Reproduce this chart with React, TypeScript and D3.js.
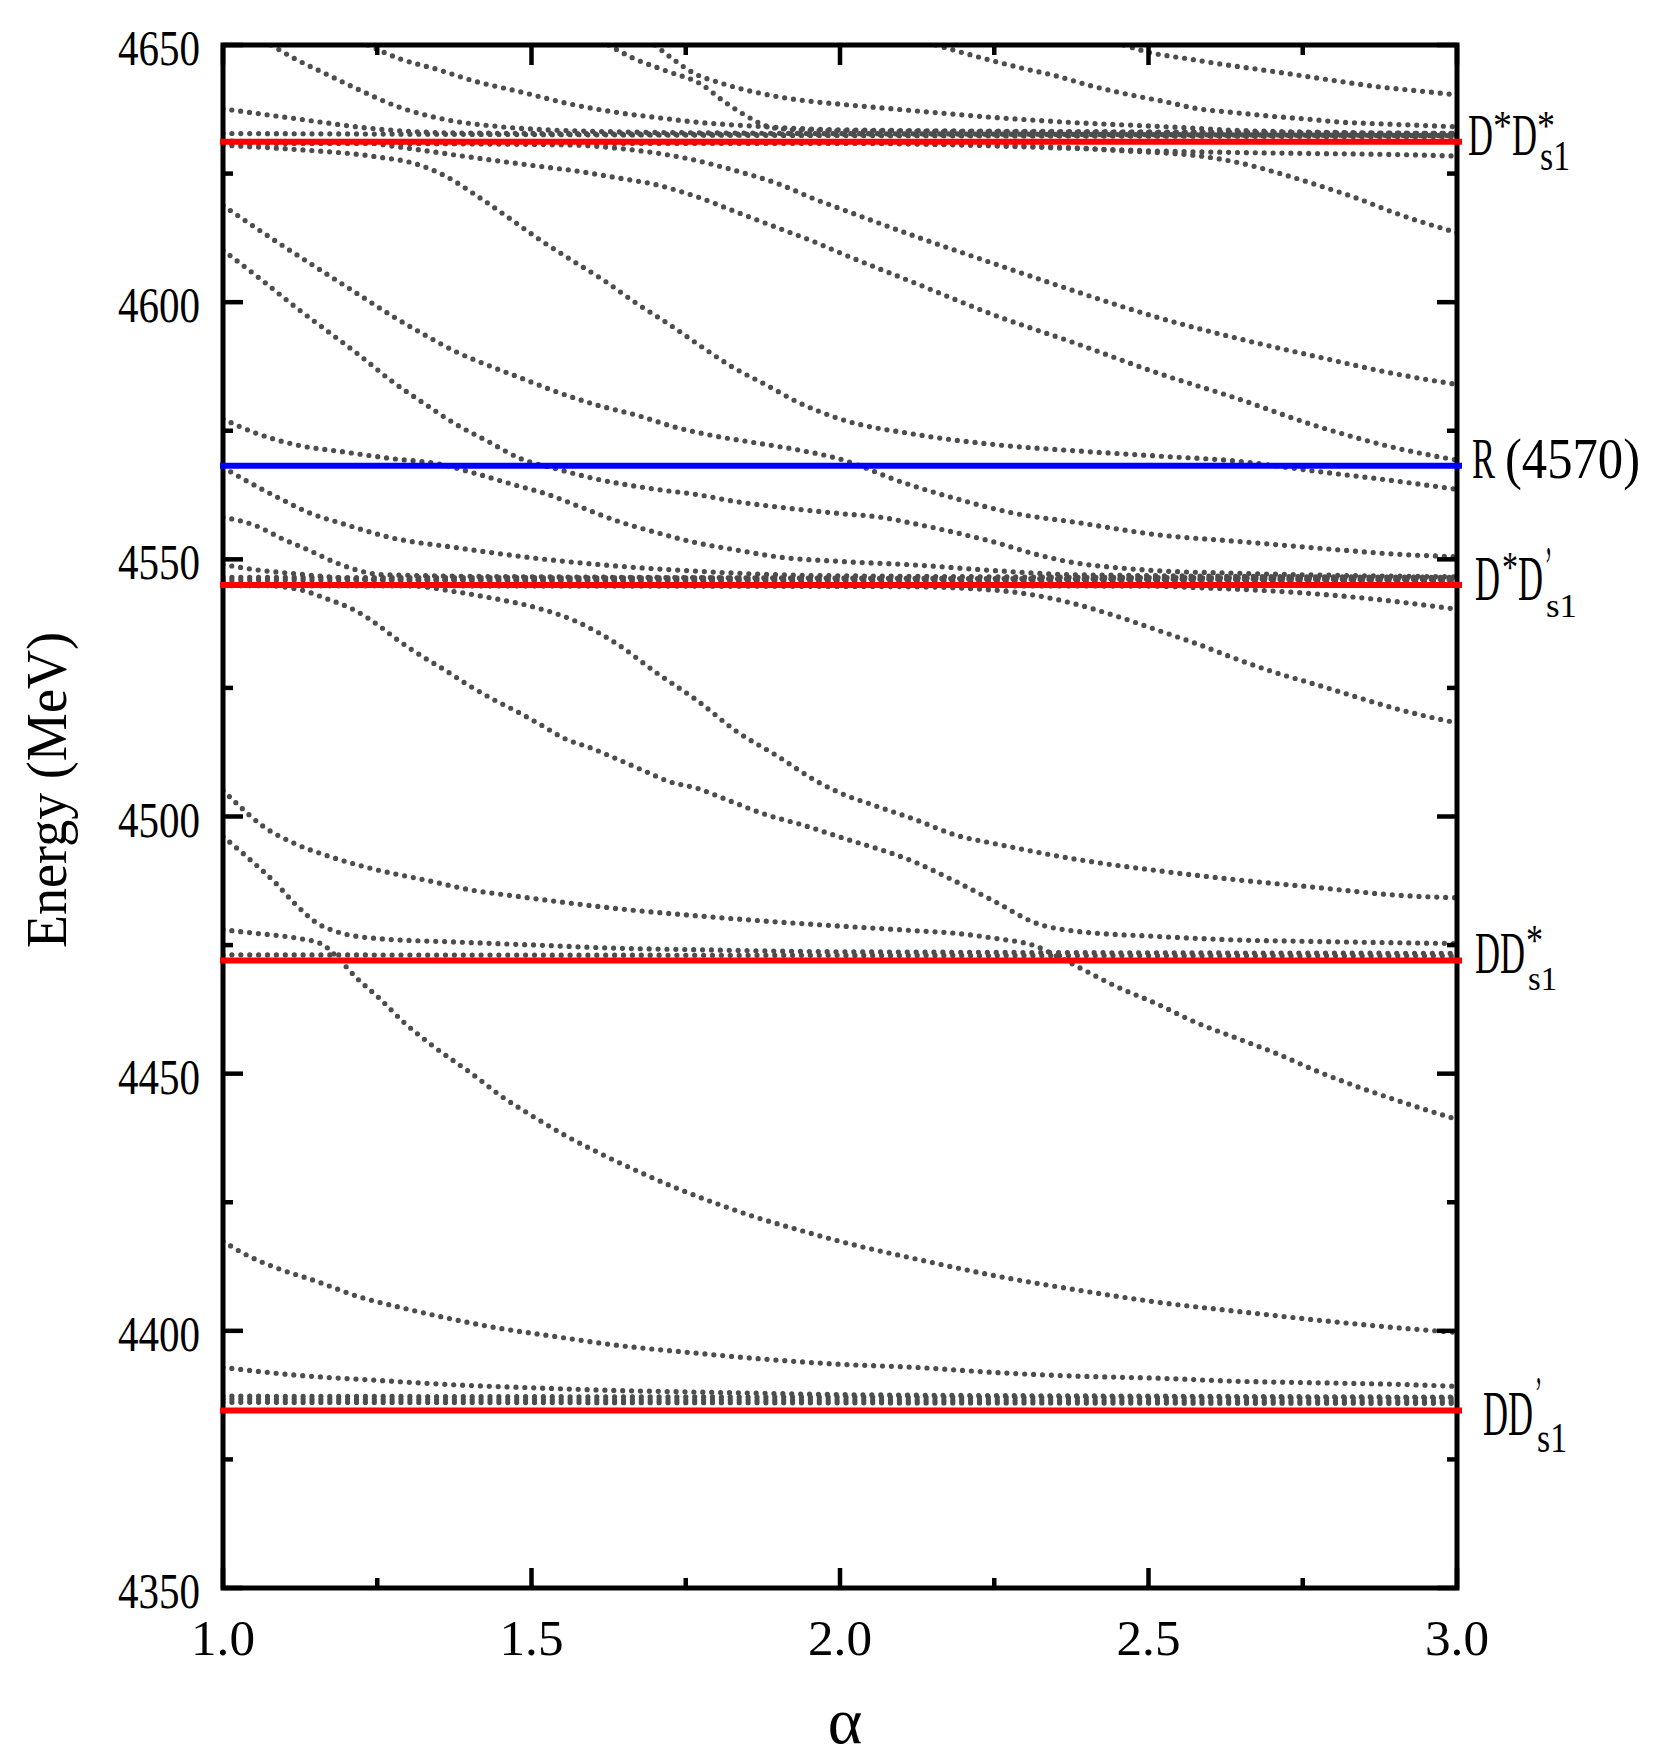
import React from 'react';
import * as d3 from 'd3';

// ---------- axes ----------
const alphaDomain = [1, 3];
const energyDomain = [4350, 4650];
const xMajor = [1, 1.5, 2, 2.5, 3];
const xMinor = [1.25, 1.75, 2.25, 2.75];
const yMajor = [4350, 4400, 4450, 4500, 4550, 4600, 4650];
const yMinor = [4375, 4425, 4475, 4525, 4575, 4625];

// ---------- thresholds (MeV) ----------
const thresholdNames = ['D*D*s1', 'R(4570)', "D*D's1", 'DD*s1', "DD's1"];
const thresholdValues = [4631.2, 4568.2, 4545.0, 4472.0, 4384.5];
const thresholdIsResonance = [false, true, false, false, false];

// ---------- energy levels [alpha, E] ----------
const c1 = [[1.078,4650],[1.117,4647.3],[1.163,4644.6],[1.215,4641.6],[1.286,4637.9],[1.365,4635.4],[1.443,4634.2],[1.573,4633.3],[1.8,4632.9],[2.2,4632.7],[3.0,4632.4]];
const c2 = [[1.235,4650],[1.287,4647.3],[1.346,4645.3],[1.41,4642.9],[1.482,4640.9],[1.56,4638.6],[1.638,4636.9],[1.703,4635.9],[1.768,4635.0],[1.866,4634.2],[2.0,4633.5],[2.5,4633.1],[3.0,4632.8]];
const c3 = [[1.625,4650],[1.662,4647.6],[1.72,4644.9],[1.776,4642.3],[1.81,4639.2],[1.843,4636.6],[1.892,4633.9],[1.95,4633.4],[2.3,4633.1],[3.0,4632.6]];
const c4 = [[1.70,4650],[1.729,4647.3],[1.762,4644.6],[1.807,4642.6],[1.86,4640.9],[1.912,4639.7],[1.964,4638.9],[2.0,4638.5],[2.122,4637.2],[2.252,4635.9],[2.382,4634.9],[2.513,4634.2],[2.643,4633.4],[2.8,4633.0],[3.0,4632.8]];
const c5 = [[2.155,4650],[2.236,4647.3],[2.295,4645.5],[2.35,4644.0],[2.409,4642.0],[2.467,4640.4],[2.526,4639.0],[2.581,4637.6],[2.636,4636.9],[2.695,4636.2],[2.757,4635.6],[2.812,4635.0],[2.871,4634.7],[2.936,4634.4],[3.0,4634.1]];
const c6 = [[2.46,4650],[2.50,4648.6],[2.565,4647.3],[2.617,4646.3],[2.676,4645.3],[2.734,4644.3],[2.806,4643.0],[2.871,4641.9],[2.936,4641.1],[3.0,4640.3]];
const b1 = [[1.0,4637.6],[1.117,4635.7],[1.247,4633.7],[1.377,4632.9],[2.0,4632.6],[3.0,4632.3]];
const flatA = [[1.0,4632.8],[2.0,4632.4],[3.0,4632.2]];
const d1 = [[1.0,4630.5],[1.117,4629.7],[1.247,4628.3],[1.312,4626.9],[1.361,4624.5],[1.41,4620.8],[1.462,4616.5],[1.514,4612.1],[1.566,4608.1],[1.619,4604.1],[1.671,4599.7],[1.723,4595.7],[1.775,4591.4],[1.827,4587.3],[1.879,4584.0],[1.931,4580.6],[2.0,4577.3],[2.122,4574.3],[2.252,4572.3],[2.382,4571.1],[2.513,4570.1],[2.643,4569.1],[2.773,4567.1],[2.903,4565.2],[3.0,4563.6]];
const p1 = [[1.0,4631.3],[1.22,4631.1],[1.283,4630.2],[1.395,4628.3],[1.507,4626.5],[1.573,4625.5],[1.638,4624.2],[1.703,4622.8],[1.768,4620.5],[1.833,4617.5],[1.898,4614.5],[1.963,4611.5],[2.0,4609.6],[2.122,4603.7],[2.252,4597.4],[2.382,4592.0],[2.513,4586.3],[2.643,4581.3],[2.773,4575.9],[2.903,4571.6],[3.0,4569.3]];
const q1 = [[1.0,4631.0],[1.55,4630.6],[1.65,4629.8],[1.75,4628.0],[1.83,4625.6],[1.90,4623.0],[1.96,4620.0],[2.0,4618.2],[2.122,4612.8],[2.252,4607.4],[2.382,4602.1],[2.513,4597.1],[2.643,4593.0],[2.773,4589.4],[2.903,4586.0],[3.0,4584.0]];
const r1 = [[1.0,4630.9],[2.0,4630.9],[2.382,4629.9],[2.513,4629.4],[2.643,4629.1],[2.773,4628.9],[2.903,4628.7],[3.0,4628.4]];
const s1 = [[1.0,4630.9],[2.0,4630.9],[2.382,4630.0],[2.447,4629.5],[2.513,4629.1],[2.578,4628.5],[2.643,4627.2],[2.708,4625.2],[2.773,4622.8],[2.838,4620.2],[2.903,4617.2],[3.0,4613.5]];
const e1 = [[1.0,4618.8],[1.065,4613.5],[1.117,4609.4],[1.169,4605.4],[1.221,4601.4],[1.273,4597.4],[1.326,4593.7],[1.377,4590.4],[1.43,4587.7],[1.482,4585.3],[1.54,4582.6],[1.606,4580.0],[1.671,4578.0],[1.736,4575.6],[1.801,4573.9],[1.866,4572.6],[1.931,4571.3],[2.0,4569.5],[2.103,4564.9],[2.194,4561.6],[2.285,4558.9],[2.382,4557.2],[2.513,4554.8],[2.643,4553.5],[2.773,4552.2],[2.903,4551.0],[3.0,4550.5]];
const f1 = [[1.0,4610.1],[1.065,4604.1],[1.117,4599.1],[1.169,4594.4],[1.221,4589.7],[1.273,4584.7],[1.326,4580.3],[1.377,4576.3],[1.43,4572.9],[1.482,4569.6],[1.54,4567.6],[1.606,4565.6],[1.703,4563.6],[1.768,4562.6],[1.833,4561.2],[1.898,4560.2],[2.0,4558.9],[2.065,4558.2],[2.122,4556.9],[2.187,4555.2],[2.252,4553.3],[2.317,4551.0],[2.382,4549.3],[2.447,4548.4],[2.513,4547.8],[2.643,4547.3],[3.0,4546.6]];
const g1 = [[1.0,4577.3],[1.052,4574.6],[1.117,4572.3],[1.195,4570.9],[1.273,4569.6],[1.351,4568.5],[1.403,4566.9],[1.469,4564.6],[1.527,4562.6],[1.579,4560.2],[1.638,4557.5],[1.703,4555.2],[1.768,4553.2],[1.833,4551.8],[1.898,4550.5],[2.0,4549.6],[2.122,4548.9],[2.252,4547.8],[2.382,4547.0],[3.0,4546.5]];
const h1 = [[1.0,4567.9],[1.039,4565.2],[1.091,4561.9],[1.143,4558.9],[1.195,4556.9],[1.273,4554.2],[1.377,4552.3],[1.508,4550.2],[1.638,4548.7],[1.768,4547.7],[1.898,4547.0],[2.0,4546.8],[3.0,4546.3]];
const i1 = [[1.0,4558.2],[1.052,4556.6],[1.098,4553.9],[1.137,4551.9],[1.182,4549.4],[1.215,4548.0],[1.26,4547.0],[1.5,4546.6],[3.0,4546.1]];
const j1 = [[1.0,4549.0],[1.052,4548.0],[1.117,4547.2],[1.182,4546.5],[1.247,4546.1],[3.0,4545.9]];
const k1 = [[1.0,4546.5],[3.0,4546.2]];
const k2 = [[1.0,4546.0],[3.0,4545.8]];
const l1 = [[1.0,4545.5],[1.117,4544.3],[1.169,4542.3],[1.215,4540.0],[1.254,4537.0],[1.28,4534.6],[1.326,4530.9],[1.358,4528.6],[1.397,4525.6],[1.436,4522.9],[1.475,4520.5],[1.514,4517.9],[1.553,4515.2],[1.599,4513.2],[1.638,4511.2],[1.684,4508.8],[1.723,4506.8],[1.768,4505.5],[1.82,4503.1],[1.879,4500.4],[1.938,4498.4],[2.0,4496.0],[2.122,4491.1],[2.187,4487.4],[2.252,4483.4],[2.317,4479.3],[2.382,4477.7],[2.513,4476.7],[2.643,4476.0],[2.773,4475.7],[3.0,4475.3]];
const m1 = [[1.0,4545.1],[1.3,4544.9],[1.377,4543.7],[1.443,4542.3],[1.508,4540.6],[1.573,4537.9],[1.638,4533.6],[1.703,4527.9],[1.768,4522.6],[1.833,4516.5],[1.898,4511.8],[1.963,4506.8],[2.0,4504.6],[2.057,4502.1],[2.122,4499.4],[2.187,4496.4],[2.252,4494.7],[2.382,4491.7],[2.513,4489.5],[2.643,4487.7],[2.773,4486.2],[2.903,4484.7],[3.0,4484.2]];
const n1 = [[1.0,4544.9],[2.1,4544.7],[2.252,4544.0],[2.317,4543.0],[2.382,4541.3],[2.447,4539.0],[2.513,4536.3],[2.578,4533.6],[2.643,4530.6],[2.708,4527.9],[2.773,4525.6],[2.838,4523.2],[2.903,4520.9],[3.0,4518.2]];
const o1 = [[1.0,4544.9],[2.5,4544.8],[2.578,4544.5],[2.708,4543.8],[2.838,4542.6],[3.0,4540.3]];
const u1 = [[1.0,4505.1],[1.026,4502.1],[1.065,4498.1],[1.117,4494.7],[1.176,4492.1],[1.247,4489.7],[1.326,4487.7],[1.403,4485.7],[1.482,4484.4],[1.56,4483.2],[1.638,4482.1],[1.768,4480.7],[1.898,4479.5],[2.0,4478.7],[2.122,4477.8],[2.187,4477.3],[2.252,4476.3],[2.317,4474.8],[2.356,4472.6],[2.382,4471.0],[2.447,4467.0],[2.513,4463.6],[2.578,4459.9],[2.643,4456.9],[2.708,4453.9],[2.773,4450.5],[2.838,4447.5],[2.903,4444.8],[3.0,4441.1]];
const v1 = [[1.0,4496.1],[1.045,4491.5],[1.085,4487.1],[1.117,4483.0],[1.156,4479.0],[1.182,4477.7],[1.247,4476.3],[1.377,4475.6],[1.508,4475.0],[1.638,4474.4],[1.768,4474.1],[2.0,4473.7],[3.0,4473.4]];
const cl1 = [[1.0,4473.1],[3.0,4472.9]];
const w1 = [[1.0,4478.0],[1.052,4477.3],[1.117,4476.4],[1.16,4475.2],[1.19,4472.0],[1.215,4468.8],[1.254,4464.6],[1.293,4460.0],[1.338,4455.6],[1.41,4449.4],[1.449,4445.8],[1.501,4441.8],[1.553,4438.1],[1.606,4434.8],[1.671,4431.1],[1.736,4427.7],[1.801,4424.7],[1.866,4422.0],[1.931,4419.7],[2.0,4417.4],[2.122,4414.0],[2.252,4410.7],[2.382,4408.0],[2.513,4405.6],[2.643,4403.8],[2.773,4402.1],[2.903,4400.6],[3.0,4399.7]];
const x1 = [[1.0,4417.4],[1.039,4414.7],[1.085,4412.3],[1.15,4409.7],[1.221,4406.6],[1.293,4404.4],[1.351,4402.8],[1.443,4400.6],[1.527,4399.1],[1.638,4397.2],[1.755,4395.8],[1.866,4394.6],[2.0,4393.5],[2.122,4392.9],[2.252,4391.9],[2.382,4391.2],[2.513,4390.8],[2.643,4390.2],[2.773,4389.9],[2.903,4389.6],[3.0,4389.2]];
const y1 = [[1.0,4392.9],[1.117,4391.4],[1.247,4390.4],[1.377,4389.5],[1.508,4388.9],[1.638,4388.4],[1.768,4388.1],[1.898,4387.8],[2.0,4387.6],[2.5,4387.3],[3.0,4387.1]];
const z1 = [[1.0,4387.3],[3.0,4386.9]];
const z2 = [[1.0,4386.7],[3.0,4386.3]];
const z3 = [[1.0,4386.1],[3.0,4385.9]];

const levels = [c1, c2, c3, c4, c5, c6, b1, flatA, d1, p1, q1, r1, s1, e1, f1, g1, h1, i1, j1, k1, k2,
  l1, m1, n1, o1, u1, v1, cl1, w1, x1, y1, z1, z2, z3];

// ---------- layout ----------
const W = 1674, H = 1764;
const L = 223, R = 1457, T = 45, B = 1588;
const FONT = "'Liberation Serif', 'Times New Roman', serif";

type Piece = { t: string; x: number; y: number; fs: number; w: number };
const labelPieces: Piece[][] = [
  [
    { t: 'D', x: 1468, y: 155, fs: 60, w: 25 },
    { t: '*', x: 1493, y: 140, fs: 42, w: 19 },
    { t: 'D', x: 1512, y: 155, fs: 60, w: 25 },
    { t: '*', x: 1537, y: 140, fs: 42, w: 18 },
    { t: 's1', x: 1540, y: 170, fs: 42, w: 30 },
  ],
  [
    { t: 'R', x: 1472, y: 478, fs: 58, w: 23 },
    { t: '(4570)', x: 1505, y: 478, fs: 58, w: 135 },
  ],
  [
    { t: 'D', x: 1475, y: 600, fs: 63, w: 25 },
    { t: '*', x: 1502, y: 582, fs: 44, w: 16 },
    { t: 'D', x: 1518, y: 600, fs: 63, w: 25 },
    { t: '\u2019', x: 1545, y: 586, fs: 56, w: 7 },
    { t: 's1', x: 1546, y: 617, fs: 33, w: 31 },
  ],
  [
    { t: 'DD', x: 1475, y: 973, fs: 60, w: 50 },
    { t: '*', x: 1526, y: 955, fs: 44, w: 17 },
    { t: 's1', x: 1528, y: 990, fs: 33, w: 29 },
  ],
  [
    { t: 'DD', x: 1483, y: 1435, fs: 63, w: 50 },
    { t: '\u2019', x: 1535, y: 1410, fs: 48, w: 7 },
    { t: 's1', x: 1537, y: 1452, fs: 43, w: 30 },
  ],
];

export default function App() {
  const x = d3.scaleLinear().domain(alphaDomain).range([L, R]);
  const y = d3.scaleLinear().domain(energyDomain).range([B, T]);
  const line = d3
    .line<number[]>()
    .x((d) => x(d[0]))
    .y((d) => y(d[1]))
    .curve(d3.curveMonotoneX);
  const fmt = d3.format('.1f');

  return (
    <svg
      width={W}
      height={H}
      viewBox={`0 0 ${W} ${H}`}
      style={{ position: 'absolute', left: 0, top: 0, background: '#fff' }}
      fontFamily={FONT}
    >
      <rect x={0} y={0} width={W} height={H} fill="#fff" />
      <defs>
        <clipPath id="plotClip">
          <rect x={L} y={T} width={R - L} height={B - T} />
        </clipPath>
      </defs>

      {/* energy levels */}
      <g clipPath="url(#plotClip)" fill="none" stroke="#4d4d4d" strokeWidth={5.2}
         strokeLinecap="round" strokeDasharray="0 8.9">
        {levels.map((lv, i) => (
          <path key={i} d={line(lv) || ''} />
        ))}
      </g>

      {/* frame */}
      <rect x={L} y={T} width={R - L} height={B - T} fill="none" stroke="#000" strokeWidth={5} />

      {/* ticks */}
      <g stroke="#000" strokeWidth={4.5}>
        {xMajor.map((v) => (
          <g key={'xM' + v}>
            <line x1={x(v)} x2={x(v)} y1={B} y2={B - 20} />
            <line x1={x(v)} x2={x(v)} y1={T} y2={T + 20} />
          </g>
        ))}
        {xMinor.map((v) => (
          <g key={'xm' + v}>
            <line x1={x(v)} x2={x(v)} y1={B} y2={B - 10} />
            <line x1={x(v)} x2={x(v)} y1={T} y2={T + 10} />
          </g>
        ))}
        {yMajor.map((v) => (
          <g key={'yM' + v}>
            <line x1={L} x2={L + 20} y1={y(v)} y2={y(v)} />
            <line x1={R} x2={R - 20} y1={y(v)} y2={y(v)} />
          </g>
        ))}
        {yMinor.map((v) => (
          <g key={'ym' + v}>
            <line x1={L} x2={L + 10} y1={y(v)} y2={y(v)} />
            <line x1={R} x2={R - 10} y1={y(v)} y2={y(v)} />
          </g>
        ))}
      </g>

      {/* tick labels */}
      <g fill="#000">
        {yMajor.map((v) => (
          <text key={'yl' + v} x={118} y={y(v) + 20} fontSize={50}
                textLength={82} lengthAdjust="spacingAndGlyphs">{String(v)}</text>
        ))}
        {xMajor.map((v) => (
          <text key={'xl' + v} x={x(v) - 32} y={1655} fontSize={51}
                textLength={64} lengthAdjust="spacingAndGlyphs">{fmt(v)}</text>
        ))}
      </g>

      {/* axis titles */}
      <text x={845} y={1743} fontSize={66} textAnchor="middle" fill="#000">α</text>
      <text
        x={66}
        y={790}
        fontSize={56}
        fill="#000"
        textAnchor="middle"
        transform="rotate(-90, 66, 790)"
        textLength={316}
        lengthAdjust="spacingAndGlyphs"
      >
        Energy (MeV)
      </text>

      {/* thresholds */}
      {thresholdValues.map((v, i) => (
        <line
          key={'th' + i}
          x1={L - 3}
          x2={R + 5}
          y1={y(v)}
          y2={y(v)}
          stroke={thresholdIsResonance[i] ? '#0000ff' : '#ff0000'}
          strokeWidth={6}
        >
          <title>{thresholdNames[i]}</title>
        </line>
      ))}

      {/* threshold labels: one text per label, pieces as tspans */}
      <g fill="#000">
        {labelPieces.map((pieces, i) => (
          <text key={'lab' + i}>
            {pieces.map((p, k) => (
              <tspan key={k} x={p.x} y={p.y} fontSize={p.fs} textLength={p.w}
                     lengthAdjust="spacingAndGlyphs">{p.t}</tspan>
            ))}
          </text>
        ))}
      </g>
    </svg>
  );
}
